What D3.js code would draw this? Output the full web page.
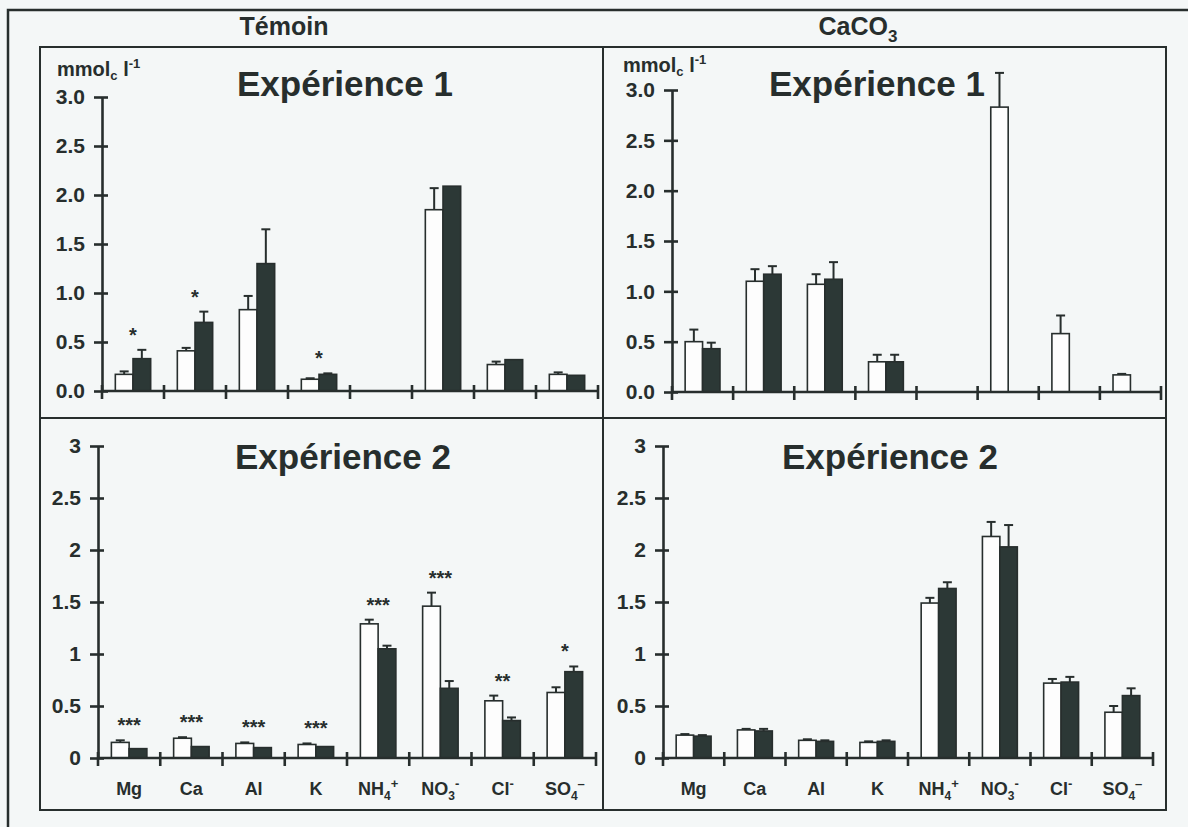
<!DOCTYPE html>
<html><head><meta charset="utf-8">
<script src="https://cdn.jsdelivr.net/npm/d3@7"></script>
<style>
body{margin:0;background:#f4f7f7;}
svg{display:block;font-family:Arial,"Liberation Sans",sans-serif;font-weight:bold;}
</style>
</head><body><svg id="c" width="1188" height="827"></svg>
<script>
// ---------- DATA ----------
const categories = ["Mg","Ca","Al","K","NH4+","NO3-","Cl-","SO4--"];
const categoryLabels = [
  [["Mg",""]],[["Ca",""]],[["Al",""]],[["K",""]],
  [["NH",""],["4","sub"],["+","sup"]],
  [["NO",""],["3","sub"],["-","sup"]],
  [["Cl",""],["-","sup"]],
  [["SO",""],["4","sub"],["\u2013","sup"]]
];
const yTicks = [0,0.5,1,1.5,2,2.5,3];
const columnHeaders = ["Témoin","CaCO3"];
const rowTitles = ["Expérience 1","Expérience 2"];

// Expérience 1 — Témoin
const e1TemWhite    = [0.17,0.41,0.83,0.12,null,1.85,0.27,0.17];
const e1TemWhiteErr = [0.03,0.03,0.14,0.01,null,0.22,0.03,0.02];
const e1TemDark     = [0.33,0.70,1.30,0.17,null,2.09,0.32,0.16];
const e1TemDarkErr  = [0.09,0.11,0.35,0.01,null,0.00,0.00,0.00];
const e1TemSig      = ["*","*","","*","","","",""];

// Expérience 1 — CaCO3
const e1CaWhite    = [0.50,1.10,1.07,0.30,null,2.83,0.58,0.17];
const e1CaWhiteErr = [0.12,0.12,0.10,0.07,null,0.34,0.18,0.01];
const e1CaDark     = [0.43,1.17,1.12,0.30,null,null,null,null];
const e1CaDarkErr  = [0.06,0.08,0.17,0.07,null,null,null,null];
const e1CaSig      = ["","","","","","","",""];

// Expérience 2 — Témoin
const e2TemWhite    = [0.15,0.19,0.14,0.13,1.29,1.46,0.55,0.63];
const e2TemWhiteErr = [0.02,0.01,0.01,0.01,0.04,0.13,0.05,0.05];
const e2TemDark     = [0.09,0.11,0.10,0.11,1.05,0.67,0.36,0.83];
const e2TemDarkErr  = [0.00,0.00,0.00,0.00,0.03,0.07,0.03,0.05];
const e2TemSig      = ["***","***","***","***","***","***","**","*"];

// Expérience 2 — CaCO3
const e2CaWhite    = [0.22,0.27,0.17,0.15,1.49,2.13,0.72,0.44];
const e2CaWhiteErr = [0.01,0.01,0.01,0.01,0.05,0.14,0.04,0.06];
const e2CaDark     = [0.21,0.26,0.16,0.16,1.63,2.03,0.73,0.60];
const e2CaDarkErr  = [0.01,0.02,0.01,0.01,0.06,0.21,0.05,0.07];
const e2CaSig      = ["","","","","","","",""];

// ---------- STYLE / LAYOUT ----------
const INK = "#272e2d", DARK = "#2c3836", WHITE = "#fdfdfd";
const svg = d3.select("#c");

// outer frame + inner grid
svg.append("path").attr("d","M8,832 L8,10 L1195,10").attr("fill","none").attr("stroke",INK).attr("stroke-width",2.5);
svg.append("rect").attr("x",40).attr("y",47).attr("width",1126).attr("height",763)
  .attr("fill","none").attr("stroke",INK).attr("stroke-width",2);
svg.append("line").attr("x1",603).attr("x2",603).attr("y1",47).attr("y2",810).attr("stroke",INK).attr("stroke-width",2);
svg.append("line").attr("x1",40).attr("x2",1166).attr("y1",418).attr("y2",418).attr("stroke",INK).attr("stroke-width",2);

// column headers
svg.append("text").attr("x",284).attr("y",35).attr("text-anchor","middle").attr("font-size",25).attr("fill",INK).text(columnHeaders[0]);
const hc = svg.append("text").attr("x",858).attr("y",35).attr("text-anchor","middle").attr("font-size",25).attr("fill",INK);
hc.append("tspan").text("CaCO");
hc.append("tspan").attr("dy",7).attr("font-size",17).text("3");

const panels = [
  {x0:102,x1:598,yz:391,yt:97, fmt:d3.format(".1f"),title:rowTitles[0],tx:345,ty:96,unit:[57,76],xlab:false,
   w:e1TemWhite,we:e1TemWhiteErr,d:e1TemDark,de:e1TemDarkErr,sig:e1TemSig},
  {x0:672,x1:1161,yz:392,yt:90, fmt:d3.format(".1f"),title:rowTitles[0],tx:877,ty:96,unit:[623,72],xlab:false,
   w:e1CaWhite,we:e1CaWhiteErr,d:e1CaDark,de:e1CaDarkErr,sig:e1CaSig},
  {x0:98,x1:596,yz:758,yt:446, fmt:d3.format("~g"),title:rowTitles[1],tx:343,ty:469,unit:null,xlab:true,
   w:e2TemWhite,we:e2TemWhiteErr,d:e2TemDark,de:e2TemDarkErr,sig:e2TemSig},
  {x0:663,x1:1153,yz:758,yt:446, fmt:d3.format("~g"),title:rowTitles[1],tx:890,ty:469,unit:null,xlab:true,
   w:e2CaWhite,we:e2CaWhiteErr,d:e2CaDark,de:e2CaDarkErr,sig:e2CaSig}
];

panels.forEach(p => {
  const g = svg.append("g");
  const x = d3.scaleBand().domain(categories).range([p.x0,p.x1]).padding(0);
  const y = d3.scaleLinear().domain([0,3]).range([p.yz,p.yt]);
  const bw = x.bandwidth()*0.285;

  // title
  g.append("text").attr("x",p.tx).attr("y",p.ty).attr("text-anchor","middle")
    .attr("font-size",35).attr("fill",INK).text(p.title);
  // unit
  if (p.unit) {
    const u = g.append("text").attr("x",p.unit[0]).attr("y",p.unit[1]).attr("font-size",20).attr("fill",INK);
    u.append("tspan").text("mmol");
    u.append("tspan").attr("dy",4).attr("font-size",13).text("c");
    u.append("tspan").attr("dy",-4).text(" l");
    u.append("tspan").attr("dy",-8).attr("font-size",13).text("-1");
  }

  const rows = categories.map((c,i)=>({c,i,w:p.w[i],we:p.we[i],d:p.d[i],de:p.de[i],s:p.sig[i]}));

  // bars
  rows.forEach(r=>{
    const cx = x(r.c)+x.bandwidth()/2;
    [[r.w,r.we,cx-bw,WHITE],[r.d,r.de,cx,DARK]].forEach(([v,e,bx,fill])=>{
      if (v==null) return;
      if (e!=null && e>0) {
        g.append("line").attr("x1",bx+bw/2).attr("x2",bx+bw/2).attr("y1",y(v)).attr("y2",y(v+e))
          .attr("stroke",INK).attr("stroke-width",2);
        g.append("line").attr("x1",bx+bw/2-4.5).attr("x2",bx+bw/2+4.5).attr("y1",y(v+e)).attr("y2",y(v+e))
          .attr("stroke",INK).attr("stroke-width",2);
      }
      g.append("rect").attr("x",bx).attr("y",y(v)).attr("width",bw).attr("height",y(0)-y(v))
        .attr("fill",fill).attr("stroke",INK).attr("stroke-width",1.6);
    });
    if (r.s) {
      const top = d3.max([r.w!=null?r.w+(r.we||0):0, r.d!=null?r.d+(r.de||0):0]);
      g.append("text").attr("x",cx).attr("y",y(top)-8).attr("text-anchor","middle")
        .attr("font-size",20).attr("fill",INK).text(r.s);
    }
  });

  // y axis
  const ya = d3.axisLeft(y).tickValues(yTicks).tickFormat(p.fmt).tickSizeInner(8).tickSizeOuter(0).tickPadding(9);
  const yg = g.append("g").attr("transform",`translate(${p.x0},0)`).call(ya);
  yg.select(".domain").attr("stroke",INK).attr("stroke-width",2.6);
  yg.selectAll(".tick line").attr("stroke",INK).attr("stroke-width",2.6).attr("x2",-8).attr("x1",6);
  yg.selectAll(".tick text").attr("font-size",21).attr("fill",INK).attr("font-family","Arial,'Liberation Sans',sans-serif").attr("font-weight","bold");

  // x axis (ticks at category boundaries)
  const bounds = categories.map(c=>x(c)).concat([p.x1]);
  g.append("line").attr("x1",p.x0).attr("x2",p.x1).attr("y1",y(0)).attr("y2",y(0)).attr("stroke",INK).attr("stroke-width",2.6);
  g.selectAll(null).data(bounds).enter().append("line")
    .attr("x1",d=>d).attr("x2",d=>d).attr("y1",y(0)-6).attr("y2",y(0)+8).attr("stroke",INK).attr("stroke-width",2.6);

  if (p.xlab) {
    categoryLabels.forEach((parts,i)=>{
      const t = g.append("text").attr("x",x(categories[i])+x.bandwidth()/2).attr("y",y(0)+37)
        .attr("text-anchor","middle").attr("font-size",18).attr("fill",INK);
      let cur = 0;
      parts.forEach(([s,k])=>{
        const ts = t.append("tspan").text(s);
        if (k==="sub") { ts.attr("dy",5-cur).attr("font-size",12); cur=5; }
        else if (k==="sup") { ts.attr("dy",-7-cur).attr("font-size",13); cur=-7; }
        else { ts.attr("dy",-cur); cur=0; }
      });
    });
  }
});
</script>
</body></html>
